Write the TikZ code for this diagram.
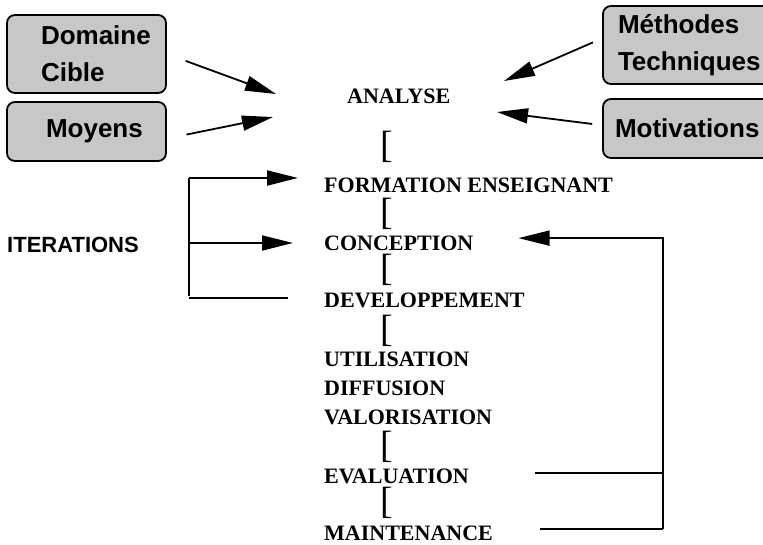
\documentclass[tikz,border=0pt]{standalone}
\usepackage{fontspec}
\setmainfont{Liberation Serif}
\setsansfont{Liberation Sans}
\usetikzlibrary{arrows.meta}

\tikzset{
  box/.style={draw,line width=1.8pt,rounded corners=8pt,fill=black!22,
    inner sep=0pt,align=left,font=\sffamily\bfseries\fontsize{26}{37}\selectfont},
  stage/.style={anchor=base west,inner sep=0pt,font=\bfseries\fontsize{22}{26}\selectfont},
  brk/.style={anchor=base west,inner sep=0pt,font=\fontsize{38}{40}\selectfont},
  ln/.style={line width=1.8pt},
  arr/.style={line width=1.8pt,-{Triangle[length=31pt,width=15pt]}}
}

\begin{document}
\begin{tikzpicture}[x=1pt,y=-1pt]
        \useasboundingbox (0,0) rectangle (763,544);
        % boites d'entree
        \node[box,minimum width=159pt,minimum height=78pt,text width=91pt] (dom) at (86.5,54) {Domaine\\Cible};
        \node[box,minimum width=159pt,minimum height=59pt,text width=81pt] (moy) at (86.5,131.5) {Moyens};
        \node[box,minimum width=187pt,minimum height=78pt,text width=157pt] (meth) at (696.5,45) {Méthodes\\Techniques};
        \node[box,minimum width=187pt,minimum height=59pt,text width=163pt] (motiv) at (696.5,128.5) {Motivations};
        % etapes
        \node[stage] (analyse) at (347,103) {ANALYSE};
        \node[stage] (formation) at (324,192) {FORMATION ENSEIGNANT};
        \node[stage] (concep) at (324,250) {CONCEPTION};
        \node[stage] (dev) at (324,307) {DEVELOPPEMENT};
        \node[stage] (util) at (324,366) {UTILISATION};
        \node[stage] (diff) at (324,395) {DIFFUSION};
        \node[stage] (valor) at (324,424) {VALORISATION};
        \node[stage] (eval) at (324,483) {EVALUATION};
        \node[stage] (maint) at (324,540) {MAINTENANCE};
        \foreach \y [count=\i] in {157,224,280,341,457,513}
          \node[brk] (b\i) at (380,\y) {[};
        \node[anchor=base west,inner sep=0pt,font=\sffamily\bfseries\fontsize{22}{26}\selectfont]
          (iter) at (7,252) {ITERATIONS};
        % fleches vers l'analyse
        \coordinate (inDom) at (276,94);
        \coordinate (inMoy) at (273,117);
        \coordinate (inMeth) at (504,81);
        \coordinate (inMotiv) at (497,112);
        \draw[arr,shorten <=20pt] (dom.east) -- (inDom);
        \draw[arr,shorten <=20pt] (moy.-5) -- (inMoy);
        \draw[arr,shorten <=10pt] (meth.176) -- (inMeth);
        \draw[arr,shorten <=10pt] (motiv.178) -- (inMotiv);
        % iterations
        \coordinate (itA) at (189,178);
        \coordinate (itB) at (189,243);
        \coordinate (itC) at (189,298);
        \draw[ln] (itA) -- ([yshift=2pt]itC);
        \draw[arr,shorten >=26pt] (itA) -- (itA -| formation.west);
        \draw[arr,shorten >=31pt] (itB) -- (itB -| concep.west);
        \draw[ln,shorten >=36pt] (itC) -- (itC -| dev.west);
        % retour evaluation / maintenance
        \coordinate (fb) at (663,400);
        \draw[ln,shorten <=66pt] ([yshift=2.7pt]eval.east) -- ([yshift=2.7pt]eval.east -| fb);
        \draw[ln,shorten <=47pt] ([yshift=3.7pt]maint.east) -- ([yshift=3.7pt]maint.east -| fb);
        \draw[arr,shorten >=45pt] ([yshift=3.7pt]maint.east -| fb) |- ([yshift=4.7pt]concep.east);
\end{tikzpicture}
\end{document}
